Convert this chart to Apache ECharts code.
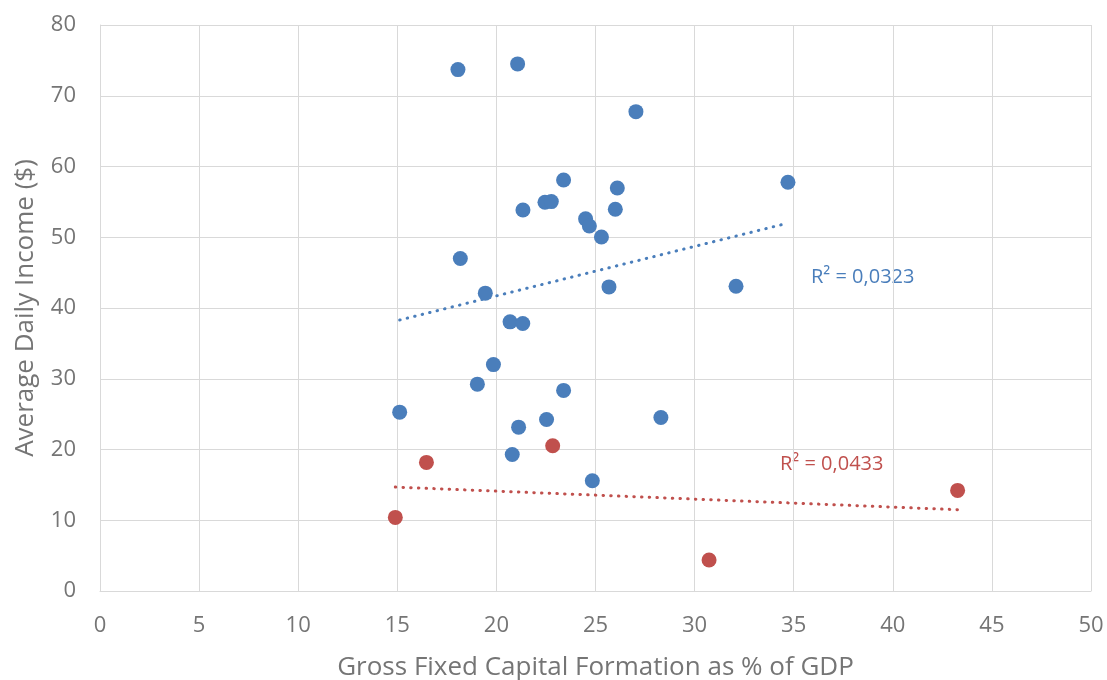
<!DOCTYPE html>
<html>
<head>
<meta charset="utf-8">
<script src="https://cdn.jsdelivr.net/npm/echarts@6/dist/echarts.min.js"></script>
<style>
html,body{margin:0;padding:0;background:#fff;}
#chart{width:1107px;height:680px;}
</style>
</head>
<body>
<div id="chart"></div>
<script>
// Blue series: [GFCF % of GDP, Average Daily Income $]
const blueX = [18.06, 21.07, 27.04, 23.39, 26.1, 21.34, 22.45, 22.77, 26.0, 24.5, 24.69, 25.3, 18.18, 19.44, 25.68, 34.71, 32.09, 20.69, 21.33, 19.85, 19.04, 23.39, 15.12, 28.3, 22.53, 21.12, 20.8, 24.84];
const blueY = [73.7, 74.5, 67.75, 58.1, 56.96, 53.86, 54.94, 55.04, 53.95, 52.6, 51.6, 50.04, 47.0, 42.1, 42.98, 57.77, 43.08, 38.04, 37.8, 32.0, 29.24, 28.35, 25.28, 24.53, 24.24, 23.16, 19.3, 15.58];
// Red series
const redX = [16.47, 22.84, 14.9, 30.73, 43.27];
const redY = [18.18, 20.52, 10.4, 4.38, 14.22];
// Linear trendline endpoints
const blueTrendX = [15.12, 34.71];
const blueTrendY = [38.3, 52.0];
const redTrendX = [14.9, 43.27];
const redTrendY = [14.69, 11.49];
const blueR2 = 'R² = 0,0323';
const redR2 = 'R² = 0,0433';

const xName = 'Gross Fixed Capital Formation as % of GDP';
const yName = 'Average Daily Income ($)';

const BLUE = '#4a7ebb';
const RED = '#c0504d';
const GRAY = '#757575';
const GRID = '#d9d9d9';
const FONT = '"Open Sans", "Noto Sans", sans-serif';

const zip = (a, b) => a.map((v, i) => [v, b[i]]);

const chart = echarts.init(document.getElementById('chart'), null, {renderer: 'canvas'});
chart.setOption({
  animation: false,
  backgroundColor: '#fff',
  grid: {left: 100, top: 25, right: 16, bottom: 89, containLabel: false, outerBoundsMode: 'none'},
  xAxis: {
    type: 'value', min: 0, max: 50, interval: 5,
    name: xName, nameLocation: 'middle', nameGap: 64,
    nameTextStyle: {color: GRAY, fontSize: 26, fontFamily: FONT, verticalAlign: 'top'},
    axisLine: {show: true, lineStyle: {color: GRID, width: 1}},
    axisTick: {show: false},
    axisLabel: {color: GRAY, fontSize: 22, fontFamily: FONT, margin: 24},
    splitLine: {show: true, lineStyle: {color: GRID, width: 1}}
  },
  yAxis: {
    type: 'value', min: 0, max: 80, interval: 10,
    name: yName, nameLocation: 'middle', nameGap: 61,
    nameTextStyle: {color: GRAY, fontSize: 26, fontFamily: FONT},
    axisLine: {show: true, lineStyle: {color: GRID, width: 1}},
    axisTick: {show: false},
    axisLabel: {color: GRAY, fontSize: 22, fontFamily: FONT, margin: 24},
    splitLine: {show: true, lineStyle: {color: GRID, width: 1}}
  },
  series: [
    {
      type: 'line', data: zip(blueTrendX, blueTrendY), symbol: 'none', silent: true,
      lineStyle: {color: BLUE, width: 3, type: [0.5, 7.2], cap: 'round'}, z: 1
    },
    {
      type: 'line', data: zip(redTrendX, redTrendY), symbol: 'none', silent: true,
      lineStyle: {color: RED, width: 3, type: [0.5, 7.2], cap: 'round'}, z: 1
    },
    {
      type: 'scatter', data: zip(blueX, blueY), symbolSize: 15,
      itemStyle: {color: BLUE, opacity: 1}, z: 3
    },
    {
      type: 'scatter', data: zip(redX, redY), symbolSize: 15,
      itemStyle: {color: RED, opacity: 1}, z: 3
    }
  ],
  graphic: [
    {type: 'text', left: 811, top: 267, style: {text: blueR2, fill: BLUE, font: '20px ' + FONT}},
    {type: 'text', left: 780, top: 454, style: {text: redR2, fill: RED, font: '20px ' + FONT}}
  ]
});
</script>
</body>
</html>
